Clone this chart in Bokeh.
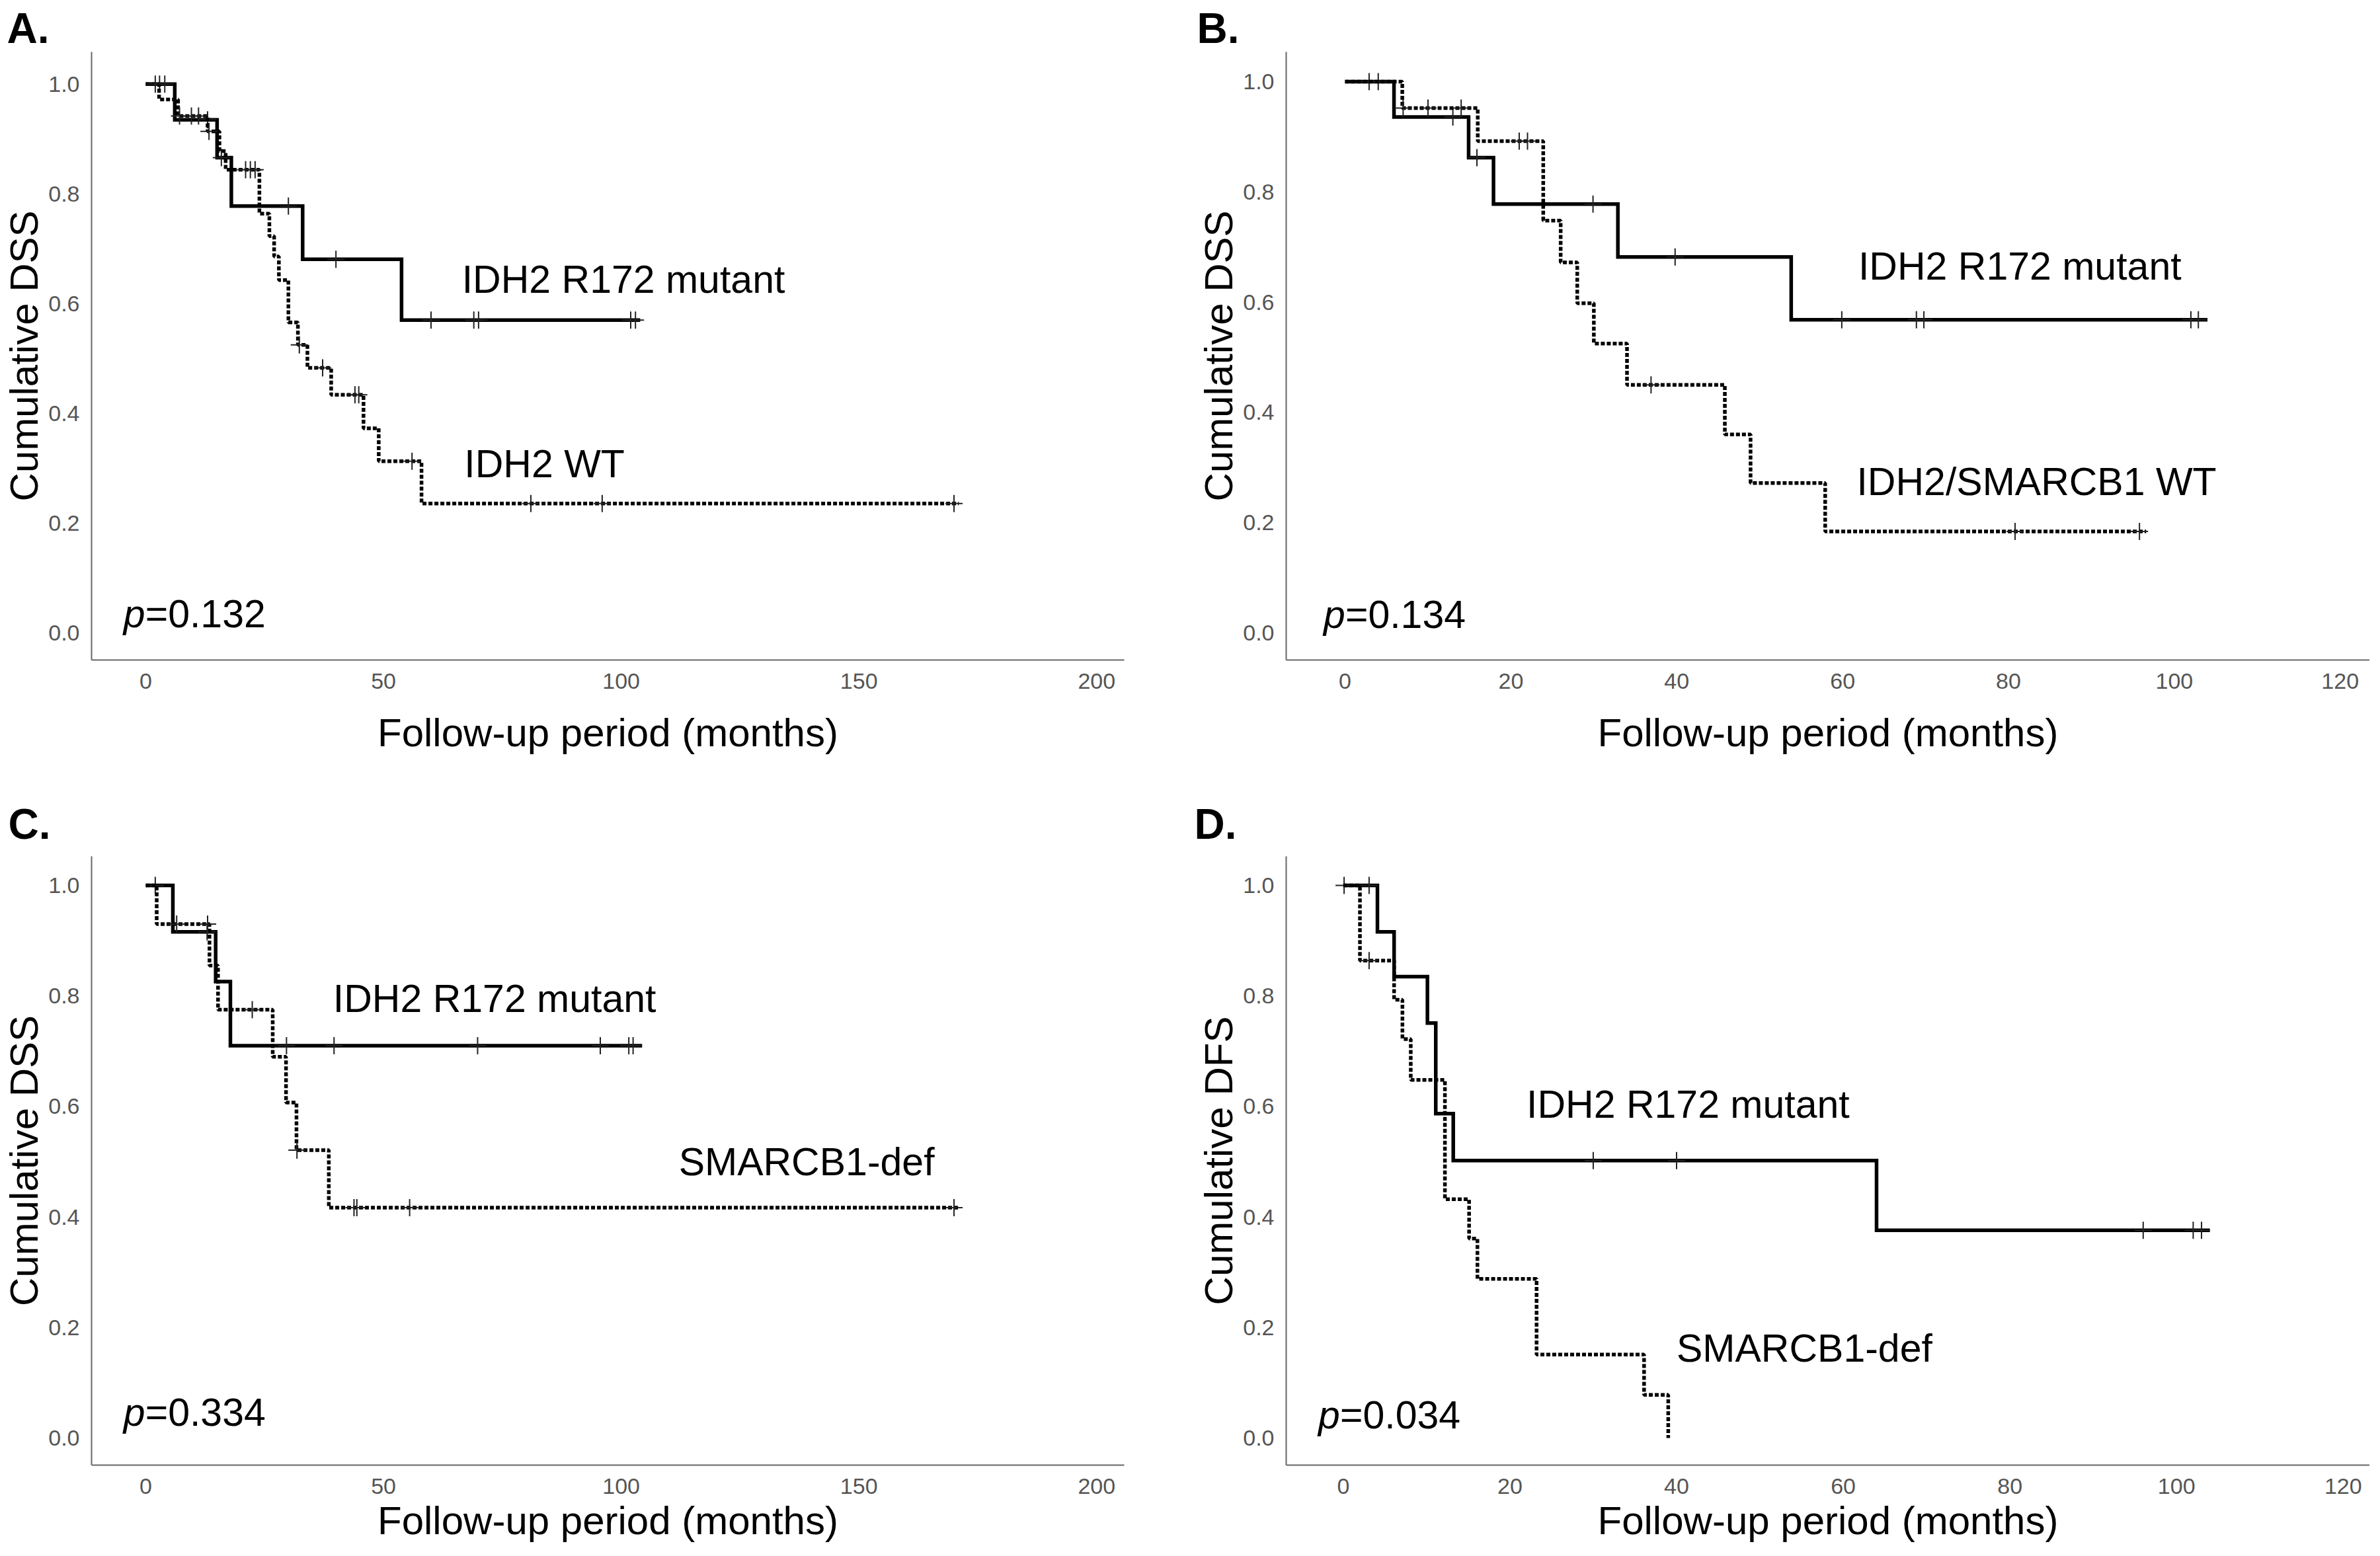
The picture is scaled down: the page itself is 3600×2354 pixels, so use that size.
import numpy as np
from bokeh.plotting import figure
from bokeh.layouts import gridplot
from bokeh.models import PrintfTickFormatter, FixedTicker, Range1d
from bokeh.core.properties import value
from bokeh.embed import file_html
from bokeh.resources import INLINE

FONT = "Liberation Sans"

# ---------------- data ----------------
# Panel A  (DSS, IDH2 R172 mutant vs IDH2 WT)
A_mut_times = [6.1, 15.0, 18.0, 33.0, 53.8]
A_mut_surv = [0.935, 0.866, 0.778, 0.681, 0.570]
A_mut_end = 104.0
A_mut_cens = [2.9, 4.0, 13.0, 15.9, 30.0, 40.0, 60.0, 69.0, 70.0, 102.0, 103.0]
A_wt_times = [2.8, 6.8, 13.0, 15.5, 16.8, 23.9, 26.0, 27.0, 28.0, 30.0, 32.0, 34.0, 39.0, 45.8, 49.0, 58.0]
A_wt_surv = [0.972, 0.942, 0.914, 0.878, 0.844, 0.764, 0.723, 0.686, 0.643, 0.566, 0.525, 0.483, 0.434, 0.373, 0.313, 0.236]
A_wt_end = 171.0
A_wt_cens = [2.0, 7.1, 9.6, 11.1, 13.3, 21.0, 22.0, 23.0, 32.3, 37.2, 44.0, 44.8, 56.0, 81.0, 96.0, 170.0]

# Panel B  (DSS, IDH2 R172 mutant vs IDH2/SMARCB1 WT)
B_mut_times = [5.9, 14.9, 17.9, 32.9, 53.8]
B_mut_surv = [0.936, 0.862, 0.778, 0.682, 0.568]
B_mut_end = 104.0
B_mut_cens = [2.9, 4.0, 13.0, 15.9, 29.9, 39.8, 59.9, 68.9, 69.8, 102.0, 102.9]
B_wt_times = [6.9, 16.0, 23.9, 26.0, 28.0, 30.0, 34.0, 45.8, 48.9, 57.9]
B_wt_surv = [0.952, 0.892, 0.748, 0.672, 0.598, 0.525, 0.450, 0.360, 0.272, 0.184]
B_wt_end = 96.6
B_wt_cens = [7.0, 10.0, 14.0, 21.0, 22.0, 36.9, 80.8, 95.8]

# Panel C  (DSS, IDH2 R172 mutant vs SMARCB1-def)
C_mut_times = [5.7, 14.7, 17.8]
C_mut_surv = [0.916, 0.826, 0.710]
C_mut_end = 104.4
C_mut_cens = [2.0, 12.9, 29.6, 39.6, 69.8, 95.6, 101.6, 102.5]
C_def_times = [2.3, 13.4, 15.2, 26.7, 29.5, 31.7, 38.5]
C_def_surv = [0.930, 0.855, 0.775, 0.690, 0.607, 0.521, 0.417]
C_def_end = 171.0
C_def_cens = [6.5, 13.0, 22.4, 31.8, 43.8, 44.4, 55.5, 170.0]

# Panel D  (DFS, IDH2 R172 mutant vs SMARCB1-def)
D_mut_times = [4.1, 6.1, 10.1, 11.1, 13.2, 64.0]
D_mut_surv = [0.916, 0.835, 0.751, 0.587, 0.502, 0.376]
D_mut_end = 104.0
D_mut_cens = [0.1, 3.1, 30.0, 40.0, 96.0, 102.0, 103.0]
D_def_times = [2.0, 6.1, 7.1, 8.1, 12.2, 15.1, 16.1, 23.2, 36.1, 39.0]
D_def_surv = [0.864, 0.793, 0.722, 0.648, 0.432, 0.361, 0.288, 0.151, 0.078, 0.0]
D_def_end = 39.0
D_def_cens = [3.1]

ticks_long = [0, 50, 100, 150, 200]
ticks_short = [0, 20, 40, 60, 80, 100, 120]
y_ticks = [0.0, 0.2, 0.4, 0.6, 0.8, 1.0]

p_values = ["=0.132", "=0.134", "=0.334", "=0.034"]
letters = ["A.", "B.", "C.", "D."]
y_titles = ["Cumulative DSS", "Cumulative DSS", "Cumulative DSS", "Cumulative DFS"]
x_title = "Follow-up period (months)"


def step_xy(times, surv, end):
    xs = [0.0] + list(times) + [end]
    ys = [1.0] + list(surv) + [surv[-1]]
    return xs, ys


def surv_at(c, times, surv):
    s = 1.0
    for t, v in zip(times, surv):
        if t <= c:
            s = v
    return s


def make_panel(w, h, xr, yr, borders, xticks, letter, ytitle, pval,
               curves, labels, title_offset, title_standoff, xlabel_standoff, p_pos):
    left, right, top, bottom = borders
    p = figure(width=w, height=h, x_range=Range1d(*xr), y_range=Range1d(*yr),
               output_backend="svg", toolbar_location=None,
               min_border_left=left, min_border_right=right,
               min_border_top=top, min_border_bottom=bottom)
    p.outline_line_color = None
    p.xgrid.visible = False
    p.ygrid.visible = False
    p.background_fill_color = "white"
    p.border_fill_color = "white"

    # panel letter as the plot title
    p.title.text = letter
    p.title.text_font = FONT
    p.title.text_font_size = "64px"
    p.title.text_font_style = "bold"
    p.title.text_color = "black"
    p.title.align = "left"
    p.title.offset = title_offset
    p.title.standoff = title_standoff

    for ax in (p.xaxis[0], p.yaxis[0]):
        ax.axis_line_color = "#666666"
        ax.axis_line_width = 2
        ax.major_tick_line_color = None
        ax.minor_tick_line_color = None
        ax.major_label_text_font = FONT
        ax.major_label_text_font_size = "34px"
        ax.major_label_text_color = "#555555"
        ax.axis_label_text_font = FONT
        ax.axis_label_text_font_size = "60px"
        ax.axis_label_text_font_style = "normal"
        ax.axis_label_text_color = "black"
    p.xaxis.ticker = FixedTicker(ticks=xticks)
    p.yaxis.ticker = FixedTicker(ticks=y_ticks)
    p.yaxis.formatter = PrintfTickFormatter(format="%.1f")
    p.xaxis.axis_label = x_title
    p.yaxis.axis_label = ytitle
    p.xaxis.major_label_standoff = 14
    p.yaxis.major_label_standoff = 12
    p.xaxis.axis_label_standoff = xlabel_standoff
    p.yaxis.axis_label_standoff = 0

    for times, surv, end, cens, dashed in curves:
        xs, ys = step_xy(times, surv, end)
        if dashed:
            p.step(xs, ys, mode="after", line_color="black", line_width=5.5,
                   line_dash="6 3", line_cap="butt")
        else:
            p.step(xs, ys, mode="after", line_color="black", line_width=5.5,
                   line_join="miter")
        cy = [surv_at(c, times, surv) for c in cens]
        p.scatter(cens, cy, marker="cross", size=26, line_width=2,
                  line_color="#222222")

    for (tx, ty, txt) in labels:
        p.text(x=[tx], y=[ty], text=[txt], text_font=value(FONT),
               text_font_size="59px", text_baseline="alphabetic",
               text_align="left", text_color="black")

    px, py = p_pos
    p.text(x=[px], y=[py], text=["p"], text_font=value(FONT),
           text_font_size="59px", text_font_style="italic",
           text_baseline="alphabetic", text_align="left", text_color="black")
    p.text(x=[px], y=[py], text=[pval], text_font=value(FONT),
           text_font_size="59px", x_offset=33,
           text_baseline="alphabetic", text_align="left", text_color="black")
    return p


W = 1792
H1 = 1160
H2 = 1178

pA = make_panel(W, H1, (-11.4, 205.8), (-0.0492, 1.0588), (130, 92, 74, 162),
                ticks_long, letters[0], y_titles[0], p_values[0],
                [(A_mut_times, A_mut_surv, A_mut_end, A_mut_cens, False),
                 (A_wt_times, A_wt_surv, A_wt_end, A_wt_cens, True)],
                [(66.5, 0.644, "IDH2 R172 mutant"), (67.0, 0.308, "IDH2 WT")],
                -128, 0, 30, (-4.7, 0.034))

pB = make_panel(W, H1, (-7.1, 123.57), (-0.0492, 1.054), (149, 0, 78, 162),
                ticks_short, letters[1], y_titles[1], p_values[1],
                [(B_mut_times, B_mut_surv, B_mut_end, B_mut_cens, False),
                 (B_wt_times, B_wt_surv, B_wt_end, B_wt_cens, True)],
                [(61.9, 0.665, "IDH2 R172 mutant"), (61.7, 0.274, "IDH2/SMARCB1 WT")],
                -135, 0, 30, (-2.6, 0.033))

pC = make_panel(W, H2, (-11.4, 205.8), (-0.049, 1.0526), (130, 92, 135, 122),
                ticks_long, letters[2], y_titles[2], p_values[2],
                [(C_mut_times, C_mut_surv, C_mut_end, C_mut_cens, False),
                 (C_def_times, C_def_surv, C_def_end, C_def_cens, True)],
                [(39.4, 0.795, "IDH2 R172 mutant"), (112.1, 0.499, "SMARCB1-def")],
                -126, 26, 4, (-4.7, 0.046))

pD = make_panel(W, H2, (-6.85, 123.19), (-0.049, 1.0526), (153, 0, 135, 122),
                ticks_short, letters[3], y_titles[3], p_values[3],
                [(D_mut_times, D_mut_surv, D_mut_end, D_mut_cens, False),
                 (D_def_times, D_def_surv, D_def_end, D_def_cens, True)],
                [(22.0, 0.604, "IDH2 R172 mutant"), (40.0, 0.162, "SMARCB1-def")],
                -139, 26, 4, (-3.0, 0.041))

grid = gridplot([[pA, pB], [pC, pD]], toolbar_location=None)

open("out.html", "w").write(file_html(grid, INLINE))
